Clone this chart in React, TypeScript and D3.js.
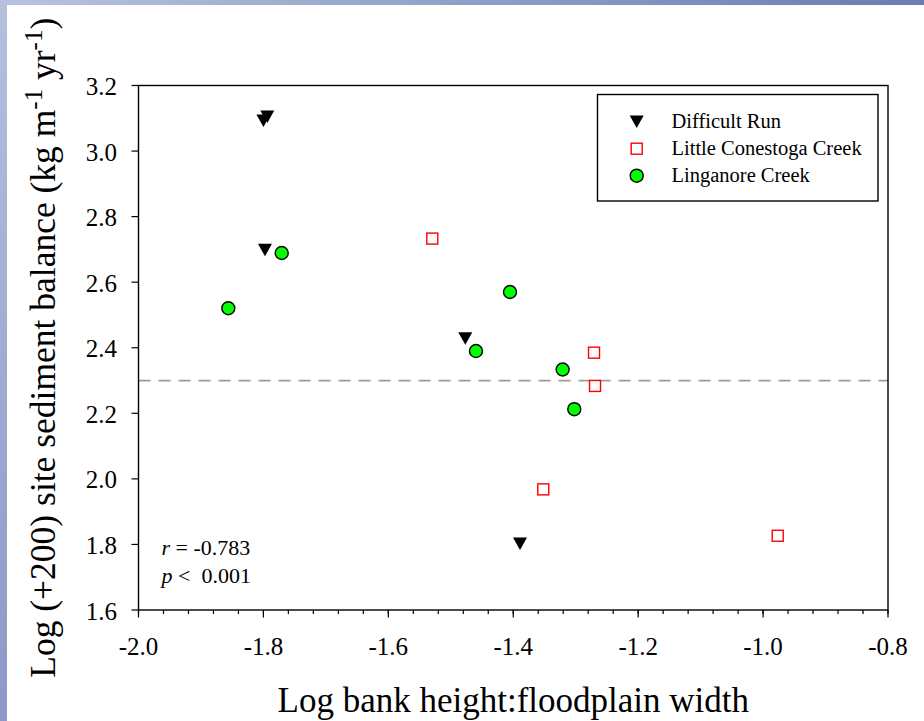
import * as d3 from "d3";

const xTicks = [-2.0, -1.8, -1.6, -1.4, -1.2, -1.0, -0.8];
const yTicks = [1.6, 1.8, 2.0, 2.2, 2.4, 2.6, 2.8, 3.0, 3.2];

// [log bank height:floodplain width, log(+200) sediment balance]
const difficultRun: [number, number][] = [
  [-1.8, 3.0925],
  [-1.7938, 3.105],
  [-1.7975, 2.698],
  [-1.4768, 2.428],
  [-1.3892, 1.802],
];
const littleConestoga: [number, number][] = [
  [-1.5296, 2.733],
  [-1.2707, 2.385],
  [-1.2691, 2.2835],
  [-1.3519, 1.968],
  [-0.9766, 1.8265],
];
const linganore: [number, number][] = [
  [-1.8562, 2.5205],
  [-1.7707, 2.689],
  [-1.4052, 2.57],
  [-1.4597, 2.39],
  [-1.3209, 2.3336],
  [-1.3023, 2.2126],
];
const referenceLine = 2.3;
const legendItems = ["Difficult Run", "Little Conestoga Creek", "Linganore Creek"];

const width = 924;
const height = 721;
const left = 138.5;
const right = 888;
const top = 85.5;
const bottom = 610;
const font = "'Liberation Serif', 'Times New Roman', serif";

const x = d3.scaleLinear().domain([-2.0, -0.8]).range([left, right]);
const y = d3.scaleLinear().domain([1.6, 3.2]).range([bottom, top]);
const minorTicks = d3.range(31).map((i) => -2.0 + i * 0.04);

function triangle(cx: number, cy: number) {
  const w = 14;
  const h = 12.5;
  return `M${cx - w / 2},${cy - h / 2}L${cx + w / 2},${cy - h / 2}L${cx},${cy + h / 2}Z`;
}

function Triangle({ cx, cy }: { cx: number; cy: number }) {
  return <path d={triangle(cx, cy)} fill="#000" />;
}

function Square({ cx, cy }: { cx: number; cy: number }) {
  const s = 11;
  return (
    <rect x={cx - s / 2} y={cy - s / 2} width={s} height={s} fill="#fff" stroke="#ff0000" strokeWidth={1.4} />
  );
}

function Circle({ cx, cy }: { cx: number; cy: number }) {
  return <circle cx={cx} cy={cy} r={6.5} fill="#00ff00" stroke="#000" strokeWidth={1.4} />;
}

export default function App() {
  const legendX = 636.7;
  const legendY = 121.7;
  const legendStep = 27;

  return (
    <>
      <style>{"body{margin:0}"}</style>
      <svg width={width} height={height} style={{ display: "block", background: "#fff" }}>
        <defs>
          <linearGradient id="topBand" x1="0" x2="1" y1="0" y2="0">
            <stop offset="0" stopColor="#b8c3df" />
            <stop offset="1" stopColor="#6b7cb1" />
          </linearGradient>
          <linearGradient id="leftBand" x1="0" x2="0" y1="0" y2="1">
            <stop offset="0" stopColor="#b5c0dd" />
            <stop offset="1" stopColor="#8a99c7" />
          </linearGradient>
        </defs>
        <rect x={0} y={0} width={width} height={5} fill="url(#topBand)" />
        <rect x={0} y={0} width={7} height={height} fill="url(#leftBand)" />

        {/* reference line */}
        <line
          x1={left}
          x2={right}
          y1={y(referenceLine)}
          y2={y(referenceLine)}
          stroke="#9c9c9c"
          strokeWidth={1.8}
          strokeDasharray="12 8"
        />

        {/* frame */}
        <rect x={left} y={top} width={right - left} height={bottom - top} fill="none" stroke="#000" strokeWidth={1.4} />

        {/* x axis ticks */}
        {minorTicks.map((t, i) => (
          <line key={`m${i}`} x1={x(t)} x2={x(t)} y1={bottom} y2={bottom + 4} stroke="#000" strokeWidth={1.2} />
        ))}
        {xTicks.map((t) => (
          <g key={`x${t}`}>
            <line x1={x(t)} x2={x(t)} y1={bottom} y2={bottom + 7.5} stroke="#000" strokeWidth={1.2} />
            <text x={x(t)} y={655} textAnchor="middle" fontFamily={font} fontSize={25} fill="#000">
              {t.toFixed(1)}
            </text>
          </g>
        ))}

        {/* y axis ticks */}
        {yTicks.map((t) => (
          <g key={`y${t}`}>
            <line x1={left - 7} x2={left} y1={y(t)} y2={y(t)} stroke="#000" strokeWidth={1.2} />
            <text x={117} y={y(t) + 9.5} textAnchor="end" fontFamily={font} fontSize={25} fill="#000">
              {t.toFixed(1)}
            </text>
          </g>
        ))}

        {/* axis titles */}
        <text x={(left + right) / 2} y={711.5} textAnchor="middle" fontFamily={font} fontSize={35} fill="#000">
          Log bank height:floodplain width
        </text>
        <text
          transform={`translate(55,${(top + bottom) / 2}) rotate(-90)`}
          textAnchor="middle"
          fontFamily={font}
          fontSize={35.5}
          fill="#000"
        >
          Log (+200) site sediment balance (kg m
          <tspan fontSize={25} dy={-13}>-1</tspan>
          <tspan dy={13}>{"\u00a0yr"}</tspan>
          <tspan fontSize={25} dy={-13}>-1</tspan>
          <tspan dy={13}>)</tspan>
        </text>

        {/* statistics */}
        <text x={161.5} y={555} fontFamily={font} fontSize={22} fill="#000">
          <tspan fontStyle="italic">r</tspan> = -0.783
        </text>
        <text x={161.5} y={583} fontFamily={font} fontSize={22} fill="#000">
          <tspan fontStyle="italic">p</tspan>
          {" <\u00a0\u00a00.001"}
        </text>

        {/* points */}
        {linganore.map(([a, b], i) => (
          <Circle key={`c${i}`} cx={x(a)} cy={y(b)} />
        ))}
        {littleConestoga.map(([a, b], i) => (
          <Square key={`s${i}`} cx={x(a)} cy={y(b)} />
        ))}
        {difficultRun.map(([a, b], i) => (
          <Triangle key={`t${i}`} cx={x(a)} cy={y(b)} />
        ))}

        {/* legend */}
        <rect x={597.5} y={94.5} width={280.5} height={106.5} fill="#fff" stroke="#000" strokeWidth={1.4} />
        <Triangle cx={legendX} cy={legendY} />
        <Square cx={legendX} cy={legendY + legendStep} />
        <Circle cx={legendX} cy={legendY + legendStep * 2} />
        {legendItems.map((label, i) => (
          <text
            key={label}
            x={671.5}
            y={legendY + 6.5 + i * legendStep}
            fontFamily={font}
            fontSize={20.5}
            fill="#000"
          >
            {label}
          </text>
        ))}
      </svg>
    </>
  );
}
